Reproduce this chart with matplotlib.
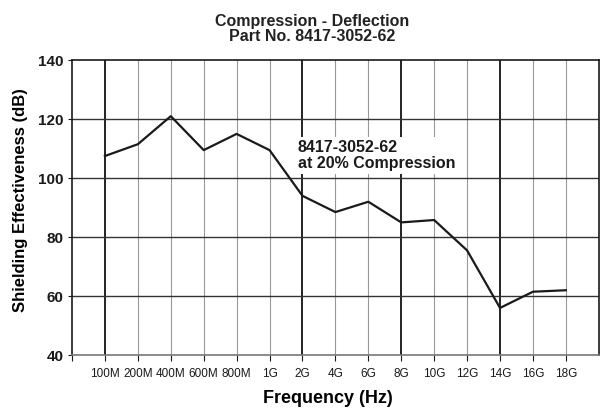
import matplotlib
matplotlib.use("Agg")
import matplotlib.pyplot as plt

plt.rcParams['font.family'] = ['Liberation Sans', 'DejaVu Sans']

freq_labels = ["100M", "200M", "400M", "600M", "800M", "1G", "2G", "4G",
               "6G", "8G", "10G", "12G", "14G", "16G", "18G"]
shielding_db = [107.5, 111.5, 121, 109.5, 115, 109.5, 94, 88.5,
                92, 85, 85.8, 75.5, 56, 61.5, 62]
major_freqs = ["100M", "2G", "8G", "14G"]
y_ticks = [40, 60, 80, 100, 120, 140]

fig = plt.figure(figsize=(6.0, 4.12), dpi=100)
ax = fig.add_axes([0.12, 0.138, 0.878, 0.716])

xs = list(range(1, len(freq_labels) + 1))
ax.set_xlim(0, len(freq_labels) + 1)
ax.set_ylim(40, 140)

# vertical grid: heavier at decade-like markers
for x, lab in zip(xs, freq_labels):
    if lab in major_freqs:
        ax.axvline(x, color="#111111", lw=1.3, zorder=1)
    else:
        ax.axvline(x, color="#999999", lw=0.8, zorder=1)
for y in y_ticks[1:-1]:
    ax.axhline(y, color="#333333", lw=1.0, zorder=1)

ax.plot(xs, shielding_db, color="#1a1a1a", lw=1.6, zorder=3)

ax.text(6.86, 107.6, "8417-3052-62\nat 20% Compression", fontsize=11.5,
        fontweight="bold", color="#1a1a1a", va="center", ha="left",
        linespacing=1.1, zorder=2,
        bbox=dict(facecolor="white", edgecolor="none", pad=2.0))

ax.set_xticks([0] + xs)
ax.set_xticklabels([""] + freq_labels, fontsize=8.5)
ax.set_yticks(y_ticks)
ax.set_yticklabels([str(v) for v in y_ticks], fontsize=11, fontweight="bold")
ax.tick_params(axis="x", length=4, width=0.8, pad=5, colors="#1a1a1a")
ax.tick_params(axis="y", length=3, width=0.8, pad=3, colors="#1a1a1a")

for s in ax.spines.values():
    s.set_color("#1a1a1a")
    s.set_linewidth(1.2)
ax.spines["bottom"].set_color("#777777")

ax.set_xlabel("Frequency (Hz)", fontsize=13, fontweight="bold")
ax.xaxis.set_label_coords(0.485, -0.118)
ax.set_ylabel("Shielding Effectiveness (dB)", fontsize=12, fontweight="bold")
ax.yaxis.set_label_coords(-0.084, 0.525)

fig.text(0.52, 0.93, "Compression - Deflection\nPart No. 8417-3052-62",
         ha="center", va="center", fontsize=11.5, fontweight="bold",
         color="#222222", linespacing=1.0)

fig.savefig("out.png", dpi=100, facecolor="white")
